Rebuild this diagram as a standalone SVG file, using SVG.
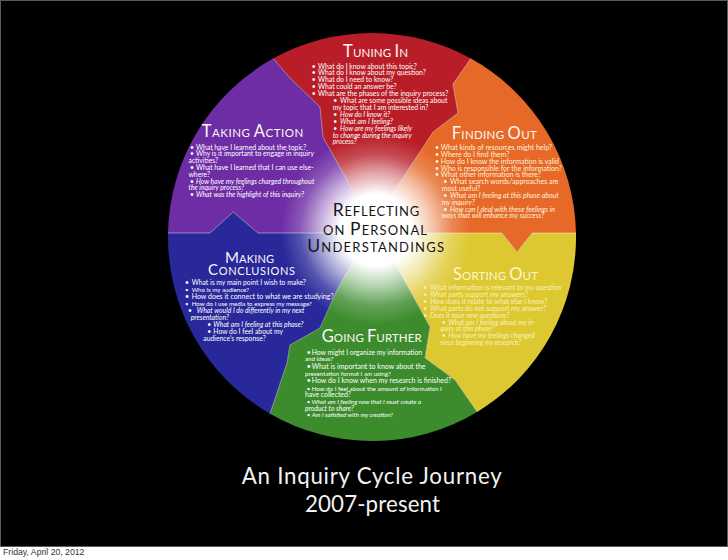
<svg xmlns="http://www.w3.org/2000/svg" width="728" height="560" viewBox="0 0 728 560">
<defs>
<radialGradient id="glow" gradientUnits="userSpaceOnUse" cx="376" cy="230" r="95">
<stop offset="0" stop-color="#fff" stop-opacity="1"/>
<stop offset="0.38" stop-color="#fff" stop-opacity="1"/>
<stop offset="0.6" stop-color="#fff" stop-opacity="0.6"/>
<stop offset="0.8" stop-color="#fff" stop-opacity="0.2"/>
<stop offset="1" stop-color="#fff" stop-opacity="0"/>
</radialGradient>
<style>
.ttl{font-family:Lato,"Open Sans",sans-serif;fill:#fbf8f4}
.big{font-size:16.5px}
.sm{font-size:11.5px}
.b{font-family:Lato,"Open Sans",sans-serif;font-size:6.8px;fill:#fff}
.i{font-style:italic}
.s{font-size:6.2px}
.l{font-size:7px}
.fo{font-size:7px;fill:#fff3dc}
.ctr{font-family:Lato,"Open Sans",sans-serif;fill:#161616}
.div{fill:none;stroke:#fff;stroke-opacity:0.55;stroke-width:0.8;stroke-linejoin:round}
</style>
</defs>
<rect x="0" y="0" width="728" height="560" fill="#fff"/>
<rect x="0.5" y="0.5" width="727" height="546" fill="#000" stroke="#5a5a5a" stroke-width="1"/>

<g id="tuning-in">
<path fill="#b91e28" d="M374,233 L353,191 L323,137 L320,107 L290,78 L273.1,58.6 A204,204 0 0 1 470.9,58.6 L453,84 L458,113 L433,132 L397,187 Z"/>
</g>
<g id="finding-out">
<path fill="#e66928" d="M374,233 L397,187 L433,132 L458,113 L453,84 L470.9,58.6 A204,204 0 0 1 576,233 L532,233 L517,252 L502,233 L440,233 Z"/>
</g>
<g id="sorting-out">
<path fill="#dec832" d="M374,233 L440,233 L502,233 L517,252 L532,233 L576,233 A204,204 0 0 1 477.1,411.9 L455,380 L425,358 L430,327 L397,267 Z"/>
</g>
<g id="going-further">
<path fill="#3c8c2d" d="M374,233 L397,267 L430,327 L425,358 L455,380 L477.1,411.9 A204,204 0 0 1 270,413.7 L287,363 L290,345 L320,328 L337,290 L353,262 Z"/>
</g>
<g id="making-conclusions">
<path fill="#28289a" d="M374,233 L353,262 L337,290 L320,328 L290,345 L287,363 L270,413.7 A204,204 0 0 1 168,233 L210,233 L233.3,212 L258,233 L300,233 Z"/>
</g>
<g id="taking-action">
<path fill="#6e2da5" d="M374,233 L300,233 L258,233 L233.3,212 L210,233 L168,233 A204,204 0 0 1 273.1,58.6 L290,78 L320,107 L323,137 L353,191 Z"/>
</g>

<g id="dividers">
<polyline class="div" points="374,233 353,191 323,137 320,107 290,78 273.1,58.6"/>
<polyline class="div" points="374,233 397,187 433,132 458,113 453,84 470.9,58.6"/>
<polyline class="div" points="374,233 502,233 517,252 532,233 576,233"/>
<polyline class="div" points="374,233 397,267 430,327 425,358 455,380 477.1,411.9"/>
<polyline class="div" points="374,233 353,262 337,290 320,328 290,345 287,363 270,413.7"/>
<polyline class="div" points="374,233 258,233 233.3,212 210,233 168,233"/>
</g>

<circle id="centre-glow" cx="376" cy="230" r="95" fill="url(#glow)"/>

<g id="reflecting">
<text class="ctr" x="376" y="216" text-anchor="middle" textLength="86.6"><tspan font-size="17.5">R</tspan><tspan font-size="13">EFLECTING</tspan></text>
<text class="ctr" x="375" y="235" text-anchor="middle" textLength="104"><tspan font-size="13">ON </tspan><tspan font-size="17.5">P</tspan><tspan font-size="13">ERSONAL</tspan></text>
<text class="ctr" x="375.6" y="252.3" text-anchor="middle" textLength="136.7"><tspan font-size="17.5">U</tspan><tspan font-size="13">NDERSTANDINGS</tspan></text>
</g>

<g id="tuning-in-text">
<text class="ttl" x="343" y="57" textLength="65"><tspan class="big">T</tspan><tspan class="sm">UNING </tspan><tspan class="big">I</tspan><tspan class="sm">N</tspan></text>
<text class="b">
<tspan x="311.7" y="68.5">•</tspan><tspan x="318" y="68.5">What do I know about this topic?</tspan>
<tspan x="311.7" y="75.4">•</tspan><tspan x="318" y="75.4">What do I know about my question?</tspan>
<tspan x="311.7" y="82.3">•</tspan><tspan x="318" y="82.3">What do I need to know?</tspan>
<tspan x="311.7" y="89.2">•</tspan><tspan x="318" y="89.2">What could an answer be?</tspan>
<tspan x="311.7" y="96.1">•</tspan><tspan x="318" y="96.1">What are the phases of the inquiry process?</tspan>
<tspan x="333.3" y="103">•</tspan><tspan x="340" y="103">What are some possible ideas about</tspan>
<tspan x="332.7" y="109.9">my topic that I am interested in?</tspan>
</text>
<text class="b i">
<tspan x="333.3" y="116.8">•</tspan><tspan x="340" y="116.8">How do I know it?</tspan>
<tspan x="333.3" y="123.7">•</tspan><tspan x="340" y="123.7">What am I feeling?</tspan>
<tspan x="333.3" y="130.6">•</tspan><tspan x="340" y="130.6">How are my feelings likely</tspan>
<tspan x="332.7" y="137.5">to change during the inquiry</tspan>
<tspan x="332.7" y="144.4">process?</tspan>
</text>
</g>

<g id="taking-action-text">
<text class="ttl" x="201.7" y="136.7" textLength="101.6"><tspan class="big">T</tspan><tspan class="sm">AKING </tspan><tspan class="big">A</tspan><tspan class="sm">CTION</tspan></text>
<text class="b">
<tspan x="190" y="149.5">•</tspan><tspan x="196" y="149.5">What have I learned about the topic?</tspan>
<tspan x="190" y="156.3">•</tspan><tspan x="196" y="156.3">Why is it important to engage in inquiry</tspan>
<tspan x="188.5" y="163.1">activities?</tspan>
<tspan x="190" y="169.9">•</tspan><tspan x="196" y="169.9">What have I learned that I can use else-</tspan>
<tspan x="188.5" y="176.7">where?</tspan>
</text>
<text class="b i">
<tspan x="190" y="183.5">•</tspan><tspan x="196" y="183.5">How have my feelings charged throughout</tspan>
<tspan x="188.5" y="190.3">the inquiry process?</tspan>
<tspan x="190" y="197.1">•</tspan><tspan x="196" y="197.1">What was the highlight of this inquiry?</tspan>
</text>
</g>

<g id="finding-out-text">
<text class="ttl" x="451.7" y="139.3" textLength="85"><tspan class="big">F</tspan><tspan class="sm">INDING </tspan><tspan class="big">O</tspan><tspan class="sm">UT</tspan></text>
<text class="b fo">
<tspan x="435" y="150">•</tspan><tspan x="440.7" y="150">What kinds of resources might help?</tspan>
<tspan x="435" y="156.8">•</tspan><tspan x="440.7" y="156.8">Where do I find them?</tspan>
<tspan x="435" y="163.7">•</tspan><tspan x="440.7" y="163.7">How do I know the information is valid</tspan>
<tspan x="435" y="170.5">•</tspan><tspan x="440.7" y="170.5">Who is responsible for the information?</tspan>
<tspan x="435" y="177.3">•</tspan><tspan x="440.7" y="177.3">What other information is there?</tspan>
<tspan x="443.3" y="184.2">•</tspan><tspan x="450" y="184.2">What search words/approaches are</tspan>
<tspan x="441.7" y="191">most useful?</tspan>
</text>
<text class="b fo i">
<tspan x="443.3" y="197.8">•</tspan><tspan x="450" y="197.8">What am I feeling at this phase about</tspan>
<tspan x="441.7" y="204.6">my inquiry?</tspan>
<tspan x="443.3" y="211.5">•</tspan><tspan x="450" y="211.5">How can I deal with these feelings in</tspan>
<tspan x="441.7" y="218.3">ways  that will enhance my success?</tspan>
</text>
</g>

<g id="sorting-out-text">
<text class="ttl" x="453" y="280" textLength="85" style="fill:#fdf6d0"><tspan class="big">S</tspan><tspan class="sm">ORTING </tspan><tspan class="big">O</tspan><tspan class="sm">UT</tspan></text>
<text class="b" style="fill:#fbf1bc">
<tspan x="423.3" y="290">•</tspan><tspan x="430" y="290">What information is relevant to my question</tspan>
<tspan x="423.3" y="296.9">•</tspan><tspan x="430" y="296.9">What parts support my answers?</tspan>
<tspan x="423.3" y="303.8">•</tspan><tspan x="430" y="303.8">How does it relate to what else I know?</tspan>
<tspan x="423.3" y="310.7">•</tspan><tspan x="430" y="310.7">What parts do not support my answer?</tspan>
</text>
<text class="b i" style="fill:#fbf1bc">
<tspan x="423.3" y="317.6">•</tspan><tspan x="430" y="317.6">Does it raise new questions?</tspan>
<tspan x="441.7" y="324.5">•</tspan><tspan x="448.3" y="324.5">What am I feeling about my in-</tspan>
<tspan x="440" y="331.4">quiry at this phase?</tspan>
<tspan x="441.7" y="338.3">•</tspan><tspan x="448.3" y="338.3">How have my feelings changed</tspan>
<tspan x="440" y="345.2">since beginning my research?</tspan>
</text>
</g>

<g id="making-conclusions-text">
<text class="ttl" x="225" y="263" textLength="49"><tspan font-size="15">M</tspan><tspan font-size="11">AKING</tspan></text>
<text class="ttl" x="208" y="275.3" textLength="87"><tspan font-size="15">C</tspan><tspan font-size="11">ONCLUSIONS</tspan></text>
<text class="b">
<tspan x="185" y="285.3">•</tspan><tspan x="191.7" y="285.3">What is my main point I wish to make?</tspan>
<tspan x="185" y="292" class="s">•</tspan><tspan x="191.7" y="292" class="s">Who is my audience?</tspan>
<tspan x="185" y="299" class="l">•</tspan><tspan x="191.7" y="299" class="l">How does it connect to what we are studying?</tspan>
<tspan x="185" y="306" class="s">•</tspan><tspan x="191.7" y="306" class="s">How do I use media to express my message?</tspan>
</text>
<text class="b i">
<tspan x="188" y="313">•</tspan><tspan x="196.7" y="313">What would I do differently in my next</tspan>
<tspan x="190.7" y="320">presentation?</tspan>
<tspan x="207.3" y="327">•</tspan><tspan x="213.3" y="327">What am I feeling at this phase?</tspan>
</text>
<text class="b">
<tspan x="207.3" y="334">•</tspan><tspan x="213.3" y="334">How do I feel about my</tspan>
<tspan x="203.3" y="341">audience's response?</tspan>
</text>
</g>

<g id="going-further-text">
<text class="ttl" x="321.7" y="341.7" textLength="100"><tspan class="big">G</tspan><tspan class="sm">OING </tspan><tspan class="big">F</tspan><tspan class="sm">URTHER</tspan></text>
<text class="b">
<tspan x="306.7" y="355">•</tspan><tspan x="311.7" y="355">How might I organize my information</tspan>
<tspan x="305" y="361.3" class="s">and ideas?</tspan>
<tspan x="306.7" y="368.8" class="l">•</tspan><tspan x="311.7" y="368.8" class="l">What is important to know about the</tspan>
<tspan x="305" y="375.6" class="s">presentation format I am using?</tspan>
<tspan x="306.7" y="383.3" class="l">•</tspan><tspan x="311.7" y="383.3" class="l">How do I know when my research is finished?</tspan>
<tspan x="306.7" y="390.5" class="s">•</tspan><tspan x="311.7" y="390.5" class="s">How do I feel about the amount of information I</tspan>
<tspan x="305" y="397.3">have collected?</tspan>
</text>
<text class="b i">
<tspan x="306.7" y="404.3" class="s">•</tspan><tspan x="311.7" y="404.3" class="s">What am I feeling now that I must create a</tspan>
<tspan x="305" y="411">product to share?</tspan>
<tspan x="306.7" y="417.3" class="s">•</tspan><tspan x="311.7" y="417.3" class="s">Am I satisfied with my creation?</tspan>
</text>
</g>

<g id="caption">
<text x="371.7" y="484.3" text-anchor="middle" textLength="260" font-family="Lato, 'Open Sans', sans-serif" font-size="22.3" fill="#f2f2f2">An Inquiry Cycle Journey</text>
<text x="372.5" y="511.7" text-anchor="middle" textLength="135" font-family="Lato, 'Open Sans', sans-serif" font-size="22.3" fill="#f2f2f2">2007-present</text>
</g>
<text x="3" y="555" font-family="'Liberation Sans', Arial, sans-serif" font-size="8.7" fill="#333">Friday, April 20, 2012</text>
</svg>
